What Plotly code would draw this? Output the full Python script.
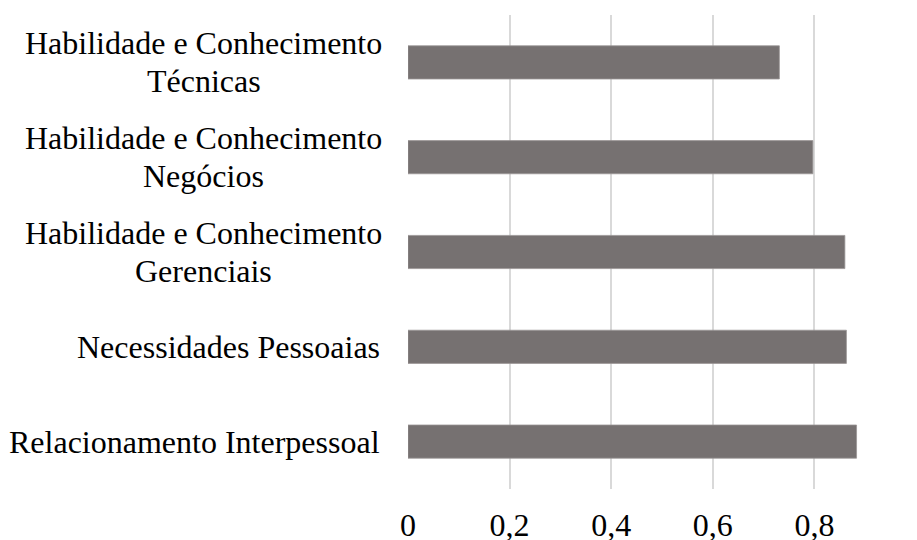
import plotly.graph_objects as go

categories = [
    "Habilidade e Conhecimento<br>Técnicas",
    "Habilidade e Conhecimento<br>Negócios",
    "Habilidade e Conhecimento<br>Gerenciais",
    "Necessidades Pessoaias",
    "Relacionamento Interpessoal",
]
values = [0.731, 0.797, 0.860, 0.863, 0.883]
x_tickvals = [0, 0.2, 0.4, 0.6, 0.8, 1.0]
x_ticktext = ["0", "0,2", "0,4", "0,6", "0,8", "1"]

FONT = "Liberation Serif, Times New Roman, serif"
FS = 32
LINE_PITCH = 38

fig = go.Figure()
fig.add_trace(go.Bar(
    x=values, y=categories, orientation="h",
    marker=dict(color="#767171", line=dict(color="#9a9696", width=0.8)),
    width=0.35,
))

anns = []
for c in categories:
    lines = c.split("<br>")
    n = len(lines)
    for i, ln in enumerate(lines):
        shift = ((n - 1) / 2 - i) * LINE_PITCH
        if n == 1:
            anns.append(dict(x=0, xref="paper", y=c, yref="y", text=ln, showarrow=False,
                             xanchor="right", yanchor="middle", xshift=-26, yshift=shift,
                             font=dict(family=FONT, size=FS, color="#000000")))
        else:
            anns.append(dict(x=0, xref="paper", y=c, yref="y", text=ln, showarrow=False,
                             xanchor="center", yanchor="middle", xshift=-26 - 357 / 2, yshift=shift,
                             font=dict(family=FONT, size=FS, color="#000000")))

fig.update_layout(
    width=909, height=532,
    margin=dict(l=400, r=1, t=7, b=51, autoexpand=False),
    paper_bgcolor="white", plot_bgcolor="white",
    showlegend=False,
    font=dict(family=FONT, size=FS, color="#000000"),
    annotations=anns,
    xaxis=dict(
        range=[0, 1], tickmode="array", tickvals=x_tickvals, ticktext=x_ticktext,
        showgrid=True, gridcolor="#d9d9d9", gridwidth=1.5,
        zeroline=False, showline=False, ticks="",
        ticklabelstandoff=14, automargin=False,
        tickfont=dict(family=FONT, size=FS, color="#000000"),
    ),
    yaxis=dict(
        categoryorder="array", categoryarray=categories,
        autorange="reversed", showticklabels=False, automargin=False,
        showgrid=False, zeroline=False, showline=False, ticks="",
    ),
)

fig.write_html("out.html")
